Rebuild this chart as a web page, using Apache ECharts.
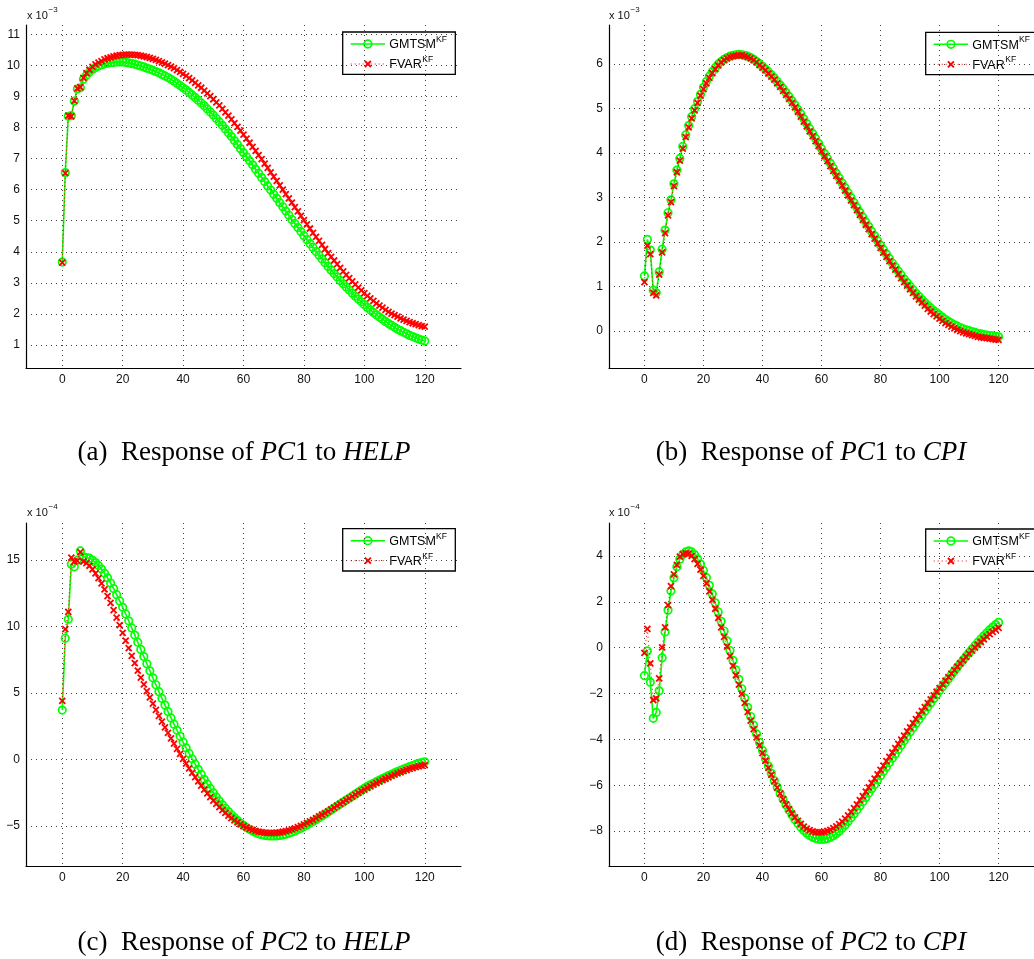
<!DOCTYPE html>
<html>
<head>
<meta charset="utf-8">
<script src="https://cdn.jsdelivr.net/npm/echarts@6/dist/echarts.min.js"></script>
<style>
  html, body { margin: 0; padding: 0; background: #fff; }
  #chart { width: 1034px; height: 959px; }
</style>
</head>
<body>
<div id="chart"></div>
<script>
// Impulse-response horizons 0..120
const horizon = Array.from({ length: 121 }, (_, i) => i);

// Response of PC1 to HELP (x 1e-3)
const pc1HelpGMTSM = [
  3.67, 6.55, 8.36, 8.38, 8.85, 9.24, 9.28, 9.55, 9.68, 9.79,
  9.87, 9.93, 9.98, 10.02, 10.05, 10.07, 10.09, 10.10, 10.11, 10.11,
  10.11, 10.10, 10.08, 10.06, 10.04, 10.01, 9.98, 9.95, 9.91, 9.88,
  9.84, 9.80, 9.76, 9.71, 9.66, 9.61, 9.55, 9.49, 9.42, 9.35,
  9.28, 9.21, 9.13, 9.05, 8.97, 8.88, 8.79, 8.70, 8.60, 8.50,
  8.40, 8.29, 8.18, 8.07, 7.95, 7.83, 7.71, 7.58, 7.45, 7.32,
  7.19, 7.06, 6.93, 6.80, 6.66, 6.53, 6.39, 6.26, 6.12, 5.99,
  5.85, 5.72, 5.58, 5.45, 5.31, 5.18, 5.04, 4.91, 4.78, 4.65,
  4.52, 4.39, 4.26, 4.14, 4.01, 3.89, 3.77, 3.65, 3.53, 3.41,
  3.30, 3.19, 3.08, 2.97, 2.87, 2.77, 2.67, 2.57, 2.48, 2.39,
  2.30, 2.21, 2.13, 2.05, 1.97, 1.90, 1.83, 1.76, 1.69, 1.63,
  1.57, 1.51, 1.46, 1.41, 1.36, 1.31, 1.27, 1.23, 1.19, 1.16,
  1.13
];
const pc1HelpFVAR = [
  3.65, 6.53, 8.38, 8.36, 8.86, 9.26, 9.30, 9.60, 9.75, 9.86,
  9.95, 10.03, 10.09, 10.14, 10.19, 10.23, 10.26, 10.29, 10.31, 10.33,
  10.34, 10.35, 10.35, 10.35, 10.34, 10.33, 10.31, 10.29, 10.27, 10.24,
  10.21, 10.18, 10.14, 10.10, 10.06, 10.01, 9.96, 9.91, 9.85, 9.79,
  9.73, 9.66, 9.59, 9.52, 9.44, 9.36, 9.28, 9.19, 9.10, 9.01,
  8.91, 8.81, 8.71, 8.60, 8.49, 8.38, 8.26, 8.14, 8.02, 7.90,
  7.77, 7.64, 7.51, 7.38, 7.25, 7.11, 6.98, 6.84, 6.70, 6.56,
  6.42, 6.28, 6.14, 6.00, 5.86, 5.72, 5.58, 5.44, 5.30, 5.16,
  5.02, 4.88, 4.75, 4.61, 4.48, 4.35, 4.22, 4.09, 3.96, 3.84,
  3.72, 3.60, 3.48, 3.37, 3.26, 3.15, 3.05, 2.95, 2.85, 2.76,
  2.67, 2.58, 2.50, 2.42, 2.34, 2.27, 2.20, 2.13, 2.07, 2.01,
  1.96, 1.91, 1.86, 1.82, 1.78, 1.74, 1.70, 1.67, 1.64, 1.61,
  1.59
];

// Response of PC1 to CPI (x 1e-3)
const pc1CpiGMTSM = [
  1.24, 2.06, 1.82, 0.92, 0.86, 1.33, 1.84, 2.27, 2.66, 2.95,
  3.31, 3.62, 3.88, 4.15, 4.41, 4.62, 4.82, 5.00, 5.16, 5.32,
  5.48, 5.61, 5.73, 5.83, 5.92, 6.00, 6.06, 6.11, 6.15, 6.18,
  6.20, 6.21, 6.22, 6.21, 6.20, 6.18, 6.15, 6.11, 6.06, 6.01,
  5.95, 5.89, 5.83, 5.76, 5.69, 5.61, 5.53, 5.45, 5.36, 5.27,
  5.18, 5.08, 4.98, 4.88, 4.77, 4.66, 4.55, 4.44, 4.33, 4.22,
  4.10, 3.99, 3.88, 3.77, 3.66, 3.55, 3.44, 3.33, 3.22, 3.11,
  3.00, 2.89, 2.78, 2.67, 2.56, 2.45, 2.35, 2.24, 2.14, 2.03,
  1.93, 1.83, 1.73, 1.63, 1.53, 1.44, 1.35, 1.26, 1.17, 1.09,
  1.01, 0.93, 0.85, 0.78, 0.71, 0.64, 0.58, 0.52, 0.46, 0.41,
  0.36, 0.31, 0.26, 0.22, 0.18, 0.14, 0.11, 0.08, 0.05, 0.03,
  0.01, -0.01, -0.03, -0.05, -0.06, -0.08, -0.09, -0.10, -0.11, -0.12,
  -0.13
];
const pc1CpiFVAR = [
  1.10, 1.92, 1.73, 0.86, 0.80, 1.27, 1.77, 2.20, 2.60, 2.90,
  3.26, 3.57, 3.83, 4.10, 4.36, 4.58, 4.78, 4.96, 5.13, 5.29,
  5.44, 5.57, 5.69, 5.80, 5.89, 5.97, 6.04, 6.09, 6.13, 6.16,
  6.18, 6.19, 6.20, 6.20, 6.18, 6.16, 6.13, 6.09, 6.04, 5.98,
  5.92, 5.86, 5.79, 5.72, 5.65, 5.57, 5.49, 5.40, 5.31, 5.22,
  5.13, 5.03, 4.93, 4.82, 4.71, 4.60, 4.49, 4.38, 4.27, 4.16,
  4.04, 3.93, 3.82, 3.71, 3.60, 3.49, 3.38, 3.27, 3.16, 3.05,
  2.94, 2.83, 2.72, 2.61, 2.50, 2.39, 2.29, 2.18, 2.08, 1.97,
  1.87, 1.77, 1.67, 1.57, 1.47, 1.38, 1.28, 1.19, 1.10, 1.02,
  0.94, 0.86, 0.78, 0.71, 0.64, 0.57, 0.50, 0.44, 0.38, 0.33,
  0.28, 0.23, 0.18, 0.14, 0.10, 0.06, 0.03, 0.00, -0.03, -0.05,
  -0.07, -0.09, -0.11, -0.13, -0.14, -0.15, -0.16, -0.17, -0.18, -0.19,
  -0.20
];

// Response of PC2 to HELP (x 1e-4)
const pc2HelpGMTSM = [
  3.71, 9.13, 10.56, 14.70, 14.50, 15.00, 15.70, 15.25, 15.20, 15.15,
  15.00, 14.82, 14.60, 14.33, 14.02, 13.67, 13.28, 12.86, 12.40, 11.93,
  11.45, 10.95, 10.43, 9.90, 9.36, 8.82, 8.28, 7.74, 7.20, 6.67,
  6.14, 5.62, 5.10, 4.59, 4.09, 3.60, 3.12, 2.65, 2.19, 1.74,
  1.30, 0.87, 0.45, 0.04, -0.36, -0.75, -1.13, -1.50, -1.85, -2.19,
  -2.52, -2.83, -3.13, -3.41, -3.68, -3.93, -4.17, -4.39, -4.60, -4.79,
  -4.97, -5.13, -5.27, -5.40, -5.51, -5.60, -5.67, -5.72, -5.75, -5.77,
  -5.77, -5.76, -5.73, -5.69, -5.63, -5.56, -5.48, -5.39, -5.29, -5.18,
  -5.06, -4.94, -4.81, -4.68, -4.54, -4.40, -4.26, -4.12, -3.97, -3.82,
  -3.67, -3.52, -3.37, -3.22, -3.07, -2.92, -2.77, -2.62, -2.47, -2.32,
  -2.17, -2.04, -1.92, -1.80, -1.68, -1.56, -1.45, -1.34, -1.23, -1.12,
  -1.02, -0.92, -0.82, -0.73, -0.64, -0.55, -0.46, -0.38, -0.30, -0.24,
  -0.18
];
const pc2HelpFVAR = [
  4.40, 9.80, 11.10, 15.20, 14.90, 14.95, 15.60, 14.90, 14.78, 14.58,
  14.30, 14.00, 13.65, 13.25, 12.80, 12.30, 11.78, 11.24, 10.68, 10.11,
  9.53, 8.95, 8.37, 7.80, 7.24, 6.69, 6.16, 5.64, 5.14, 4.66,
  4.19, 3.73, 3.28, 2.84, 2.41, 1.99, 1.58, 1.18, 0.79, 0.41,
  0.04, -0.32, -0.67, -1.01, -1.34, -1.66, -1.97, -2.27, -2.56, -2.84,
  -3.10, -3.35, -3.59, -3.82, -4.03, -4.23, -4.42, -4.59, -4.75, -4.89,
  -5.02, -5.13, -5.23, -5.31, -5.38, -5.44, -5.48, -5.51, -5.53, -5.54,
  -5.54, -5.52, -5.49, -5.45, -5.40, -5.34, -5.27, -5.19, -5.10, -5.00,
  -4.90, -4.79, -4.67, -4.55, -4.43, -4.30, -4.17, -4.04, -3.91, -3.77,
  -3.63, -3.49, -3.35, -3.21, -3.07, -2.93, -2.80, -2.66, -2.53, -2.40,
  -2.27, -2.15, -2.03, -1.91, -1.79, -1.68, -1.57, -1.46, -1.35, -1.25,
  -1.15, -1.06, -0.97, -0.88, -0.80, -0.72, -0.65, -0.58, -0.52, -0.47,
  -0.43
];

// Response of PC2 to CPI (x 1e-4)
const pc2CpiGMTSM = [
  -1.22, -0.14, -1.51, -3.08, -2.82, -1.88, -0.44, 0.69, 1.64, 2.47,
  3.05, 3.53, 3.86, 4.07, 4.18, 4.22, 4.18, 4.06, 3.88, 3.65,
  3.37, 3.06, 2.72, 2.35, 1.96, 1.56, 1.15, 0.73, 0.30, -0.12,
  -0.55, -0.97, -1.38, -1.79, -2.20, -2.60, -3.00, -3.38, -3.76, -4.13,
  -4.48, -4.83, -5.16, -5.48, -5.79, -6.08, -6.36, -6.62, -6.86, -7.09,
  -7.30, -7.49, -7.67, -7.83, -7.97, -8.09, -8.19, -8.27, -8.32, -8.35,
  -8.36, -8.35, -8.32, -8.27, -8.20, -8.11, -8.00, -7.87, -7.73, -7.58,
  -7.42, -7.25, -7.08, -6.90, -6.72, -6.53, -6.34, -6.15, -5.96, -5.77,
  -5.58, -5.39, -5.20, -5.01, -4.82, -4.63, -4.44, -4.25, -4.06, -3.87,
  -3.68, -3.49, -3.31, -3.13, -2.95, -2.77, -2.59, -2.41, -2.23, -2.05,
  -1.87, -1.70, -1.53, -1.36, -1.19, -1.02, -0.85, -0.69, -0.53, -0.37,
  -0.21, -0.06, 0.09, 0.24, 0.38, 0.52, 0.65, 0.78, 0.90, 1.01,
  1.11
];
const pc2CpiFVAR = [
  -0.22, 0.82, -0.68, -2.28, -2.21, -1.34, 0.02, 0.89, 1.86, 2.69,
  3.20, 3.61, 3.97, 4.08, 4.12, 4.10, 4.01, 3.86, 3.66, 3.41,
  3.13, 2.81, 2.46, 2.09, 1.70, 1.30, 0.89, 0.47, 0.05, -0.37,
  -0.79, -1.20, -1.61, -2.01, -2.41, -2.80, -3.18, -3.55, -3.91, -4.26,
  -4.60, -4.93, -5.24, -5.54, -5.83, -6.10, -6.36, -6.60, -6.83, -7.04,
  -7.23, -7.40, -7.55, -7.68, -7.80, -7.89, -7.96, -8.01, -8.04, -8.05,
  -8.05, -8.03, -7.99, -7.94, -7.87, -7.79, -7.69, -7.58, -7.45, -7.31,
  -7.16, -7.00, -6.83, -6.65, -6.47, -6.28, -6.09, -5.90, -5.71, -5.52,
  -5.33, -5.14, -4.95, -4.76, -4.57, -4.38, -4.19, -4.01, -3.83, -3.65,
  -3.47, -3.29, -3.11, -2.93, -2.76, -2.59, -2.42, -2.25, -2.08, -1.92,
  -1.76, -1.60, -1.44, -1.28, -1.13, -0.98, -0.83, -0.68, -0.54, -0.40,
  -0.26, -0.13, 0.00, 0.13, 0.25, 0.37, 0.48, 0.59, 0.69, 0.78,
  0.87
];

// Axis ranges, tick steps and scale exponents per panel
const yRanges = [[0.26, 11.3], [-0.83, 6.88], [-8.03, 17.8], [-9.52, 5.44]];
const yTickSteps = [1, 1, 5, 2];
const xRange = [-12, 132];
const xTickStep = 20;
const exponents = ['\u22123', '\u22123', '\u22124', '\u22124'];

// Legend labels
const legendNames = ['GMTSM', 'FVAR'];
const legendSup = 'KF';

// Caption pieces: tag, responder, responder index, shock
const captionTags = ['(a)', '(b)', '(c)', '(d)'];
const captionVars = [['PC', '1', 'HELP'], ['PC', '1', 'CPI'], ['PC', '2', 'HELP'], ['PC', '2', 'CPI']];

const greenSeries = [pc1HelpGMTSM, pc1CpiGMTSM, pc2HelpGMTSM, pc2CpiGMTSM];
const redSeries = [pc1HelpFVAR, pc1CpiFVAR, pc2HelpFVAR, pc2CpiFVAR];

// ---- layout & styling ----
const panels = [
  { left: 26, top: 25, legend: [342.7, 32], exp: [27, 16], cap: [244, 453] },
  { left: 609, top: 25, legend: [925.7, 32.3], exp: [609, 16], cap: [811, 453] },
  { left: 26, top: 523, legend: [342.7, 528.7], exp: [27, 513], cap: [244, 943] },
  { left: 609, top: 523, legend: [925.7, 529], exp: [609, 513], cap: [811, 943] }
];
const PW = 435, PH = 343;
const GREEN = '#00ff00', RED = '#ff0000';
const SANS = '"Liberation Sans", Arial, sans-serif';
const SERIF = '"Liberation Serif", "Times New Roman", serif';
const CROSS = 'path://M0,0L10,10M10,0L0,10';

const minusFmt = v => String(v).replace('-', '\u2212');

const axisCommon = {
  axisLine: { show: true, onZero: false, lineStyle: { color: '#000', width: 1.2 } },
  axisTick: { show: false },
  axisLabel: {
    fontFamily: SANS, fontSize: 12, color: '#111', margin: 6,
    showMinLabel: false, showMaxLabel: false, formatter: minusFmt
  },
  splitLine: {
    show: true, showMinLine: false, showMaxLine: false,
    lineStyle: { color: '#444', width: 1, type: [1, 4] }
  }
};

const grids = panels.map(p => ({ left: p.left, top: p.top, width: PW, height: PH, containLabel: false }));

const xAxes = panels.map((p, i) => Object.assign({
  gridIndex: i, type: 'value', position: 'bottom',
  min: xRange[0], max: xRange[1], minInterval: xTickStep, maxInterval: xTickStep
}, JSON.parse(JSON.stringify(axisCommon)), {
  axisLabel: Object.assign({}, axisCommon.axisLabel)
}));

const yAxes = panels.map((p, i) => Object.assign({
  gridIndex: i, type: 'value', position: 'left',
  min: yRanges[i][0], max: yRanges[i][1],
  minInterval: yTickSteps[i], maxInterval: yTickSteps[i]
}, JSON.parse(JSON.stringify(axisCommon)), {
  axisLabel: Object.assign({}, axisCommon.axisLabel)
}));

const series = [];
panels.forEach((p, i) => {
  series.push({
    name: legendNames[0], type: 'line', xAxisIndex: i, yAxisIndex: i,
    data: horizon.map((t, k) => [t, greenSeries[i][k]]),
    symbol: 'circle', symbolSize: 7.5, showAllSymbol: true,
    lineStyle: { color: GREEN, width: 1.6 },
    itemStyle: { color: 'rgba(0,0,0,0)', borderColor: GREEN, borderWidth: 1.7 },
    emphasis: { disabled: true }, silent: true, clip: false, z: 2
  });
  series.push({
    name: legendNames[1], type: 'line', xAxisIndex: i, yAxisIndex: i,
    data: horizon.map((t, k) => [t, redSeries[i][k]]),
    symbol: CROSS, symbolSize: 6, showAllSymbol: true,
    lineStyle: { color: RED, width: 1, type: [1, 3] },
    itemStyle: { color: RED, borderColor: RED, borderWidth: 1.8 },
    emphasis: { disabled: true }, silent: true, clip: false, z: 3
  });
});

// Boxed legend with superscripted labels
function legendBox(x, y) {
  const txt = (tx, ty, text, size) => ({
    type: 'text', x: tx, y: ty,
    style: { text: text, font: size + 'px ' + SANS, fill: '#000', textVerticalAlign: 'middle' }
  });
  return {
    type: 'group', x: x, y: y, silent: true, z: 100,
    children: [
      { type: 'rect', shape: { x: 0, y: 0, width: 112.6, height: 42.3 },
        style: { fill: '#fff', stroke: '#000', lineWidth: 1.3 } },
      { type: 'line', shape: { x1: 8, y1: 12, x2: 42.3, y2: 12 },
        style: { stroke: GREEN, lineWidth: 1.6 } },
      { type: 'circle', shape: { cx: 25.2, cy: 12, r: 3.8 },
        style: { fill: 'none', stroke: GREEN, lineWidth: 1.7 } },
      txt(46.6, 13, legendNames[0], 12.5),
      txt(93.3, 7.5, legendSup, 8.5),
      { type: 'line', shape: { x1: 8, y1: 32, x2: 42.3, y2: 32 },
        style: { stroke: RED, lineWidth: 1, lineDash: [1, 3] } },
      { type: 'line', shape: { x1: 22.2, y1: 29, x2: 28.2, y2: 35 },
        style: { stroke: RED, lineWidth: 1.8 } },
      { type: 'line', shape: { x1: 28.2, y1: 29, x2: 22.2, y2: 35 },
        style: { stroke: RED, lineWidth: 1.8 } },
      txt(46.6, 33, legendNames[1], 12.5),
      txt(79.6, 27.5, legendSup, 8.5)
    ]
  };
}

const graphics = [];
panels.forEach((p, i) => {
  graphics.push(legendBox(p.legend[0], p.legend[1]));
  // scale exponent above the y axis
  graphics.push({
    type: 'text', x: p.exp[0], y: p.exp[1], silent: true,
    style: { text: 'x 10', font: '11px ' + SANS, fill: '#111', textVerticalAlign: 'middle' }
  });
  graphics.push({
    type: 'text', x: p.exp[0] + 21.5, y: p.exp[1] - 6.5, silent: true,
    style: { text: exponents[i], font: '8px ' + SANS, fill: '#111', textVerticalAlign: 'middle' }
  });
  // subfigure caption
  const v = captionVars[i];
  graphics.push({
    type: 'text', x: p.cap[0], y: p.cap[1], silent: true,
    style: {
      text: '{n|' + captionTags[i] + '\u2002Response of }{i|' + v[0] + '}{n|' + v[1] + ' to }{i|' + v[2] + '}',
      textAlign: 'center', textVerticalAlign: 'middle',
      rich: {
        n: { fontFamily: SERIF, fontSize: 27, fill: '#000' },
        i: { fontFamily: SERIF, fontSize: 27, fontStyle: 'italic', fill: '#000' }
      }
    }
  });
});

const chart = echarts.init(document.getElementById('chart'), null, { renderer: 'canvas' });
chart.setOption({
  animation: false,
  backgroundColor: '#fff',
  grid: grids,
  xAxis: xAxes,
  yAxis: yAxes,
  series: series,
  graphic: { elements: graphics }
});
</script>
</body>
</html>
